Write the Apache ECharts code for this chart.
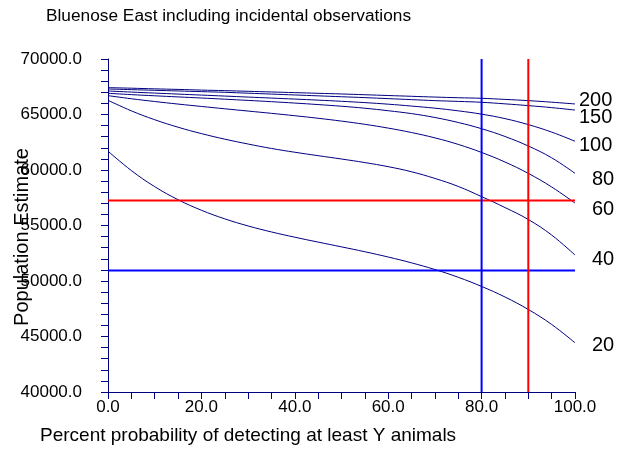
<!DOCTYPE html>
<html>
<head>
<meta charset="utf-8">
<script src="https://cdn.jsdelivr.net/npm/echarts@6/dist/echarts.min.js"></script>
<style>
html,body{margin:0;padding:0;background:#fff;}
#c{width:626px;height:453px;}
</style>
</head>
<body>
<div id="c"></div>
<script>
// ---- data ----
const titleText = 'Bluenose East including incidental observations';
const xTitle = 'Percent probability of detecting at least Y animals';
const yTitle = 'Population Estimate';
const xPct = [0,5,10,15,20,25,30,35,40,45,50,55,60,65,70,75,80,85,90,95,100];
const curveNames = ['200','150','100','80','60','40','20'];
const y200 = [67420,67370,67310,67260,67200,67150,67090,67030,66970,66910,66850,66780,66710,66640,66570,66510,66460,66360,66250,66110,65950];
const y150 = [67300,67240,67180,67120,67060,67000,66920,66840,66760,66680,66600,66520,66430,66340,66250,66180,66100,65960,65800,65620,65400];
const y100 = [67120,67020,66930,66840,66750,66660,66570,66480,66390,66295,66190,66070,65930,65760,65570,65330,65030,64630,64090,63415,62590];
const y80  = [66910,66790,66685,66585,66485,66380,66270,66155,66030,65895,65745,65565,65340,65080,64730,64280,63720,63020,62160,61100,59700];
const y60  = [66700,66420,66170,65940,65725,65515,65310,65105,64890,64660,64405,64115,63775,63375,62895,62305,61580,60720,59695,58470,57020];
const y40  = [66280,65330,64530,63855,63280,62780,62340,61940,61600,61290,60990,60670,60300,59840,59240,58520,57600,56620,55540,54140,52340];
const y20  = [61700,59950,58500,57325,56375,55600,54960,54420,53945,53505,53075,52635,52160,51635,51035,50335,49510,48560,47435,46085,44435];
const curveValues = [y200,y150,y100,y80,y60,y40,y20];
const hLineValues = [57250, 50950];      // red, blue
const vLineValues = [80, 90];            // blue, red
const yTicks = [40000,45000,50000,55000,60000,65000,70000];
const xTicks = [0,20,40,60,80,100];

// ---- styles ----
const FONT = '"Liberation Sans", Arial, sans-serif';
const NAVY = '#000080';
const labelOffsets = {'200':[0,-3],'150':[0,7],'100':[0,4],'80':[13,6],'60':[13,6],'40':[13,4],'20':[13,3]};

const series = curveNames.map((name, k) => ({
  name: name,
  type: 'line',
  data: xPct.map((x, i) => [x, curveValues[k][i]]),
  showSymbol: false,
  smooth: 0.4,
  lineStyle: {color: NAVY, width: 1},
  itemStyle: {color: NAVY},
  emphasis: {disabled: true},
  endLabel: {
    show: true,
    formatter: name,
    distance: 4,
    offset: labelOffsets[name],
    color: '#000',
    fontFamily: FONT,
    fontSize: 20
  },
  z: 2
}));

const hColors = ['#ff0000', '#0000ff'];
hLineValues.forEach((v, i) => {
  series.push({
    type: 'line', data: [[xTicks[0], v], [xTicks[xTicks.length-1], v]],
    showSymbol: false, lineStyle: {color: hColors[i], width: 2}, emphasis: {disabled: true}, z: 3
  });
});
const vColors = ['#0000ff', '#ff0000'];
vLineValues.forEach((v, i) => {
  series.push({
    type: 'line', data: [[v, yTicks[0]], [v, yTicks[yTicks.length-1]]],
    showSymbol: false, lineStyle: {color: vColors[i], width: 2}, emphasis: {disabled: true}, z: 3
  });
});

const chart = echarts.init(document.getElementById('c'), null, {renderer: 'canvas'});
chart.setOption({
  animation: false,
  backgroundColor: '#fff',
  title: {
    text: titleText, left: 46, top: 8, padding: 0,
    textStyle: {fontFamily: FONT, fontSize: 17.3, fontWeight: 'normal', color: '#000'}
  },
  grid: {left: 108, right: 51, top: 59, bottom: 61, containLabel: false},
  xAxis: {
    type: 'value', min: xTicks[0], max: xTicks[xTicks.length-1], interval: 20,
    axisLine: {show: true, lineStyle: {color: NAVY, width: 1}},
    axisTick: {show: true, length: 7, lineStyle: {color: NAVY}},
    minorTick: {show: true, splitNumber: 4, length: 7, lineStyle: {color: NAVY}},
    splitLine: {show: false},
    axisLabel: {margin: 7, color: '#000', fontFamily: FONT, fontSize: 17, formatter: v => v.toFixed(1)}
  },
  yAxis: {
    type: 'value', min: yTicks[0], max: yTicks[yTicks.length-1], interval: 5000,
    axisLine: {show: true, lineStyle: {color: NAVY, width: 1}},
    axisTick: {show: true, length: 7, lineStyle: {color: NAVY}},
    minorTick: {show: true, splitNumber: 5, length: 7, lineStyle: {color: NAVY}},
    splitLine: {show: false},
    axisLabel: {margin: 26, color: '#000', fontFamily: FONT, fontSize: 17, formatter: v => v.toFixed(1)}
  },
  graphic: [
    {type: 'text', left: 40, top: 426, style: {text: xTitle, fill: '#000', font: '19px ' + FONT}},
    {type: 'text', x: 22, y: 237, rotation: Math.PI / 2,
     style: {text: yTitle, fill: '#000', font: '20px ' + FONT, align: 'center', verticalAlign: 'middle'}}
  ],
  series: series
});
</script>
</body>
</html>
